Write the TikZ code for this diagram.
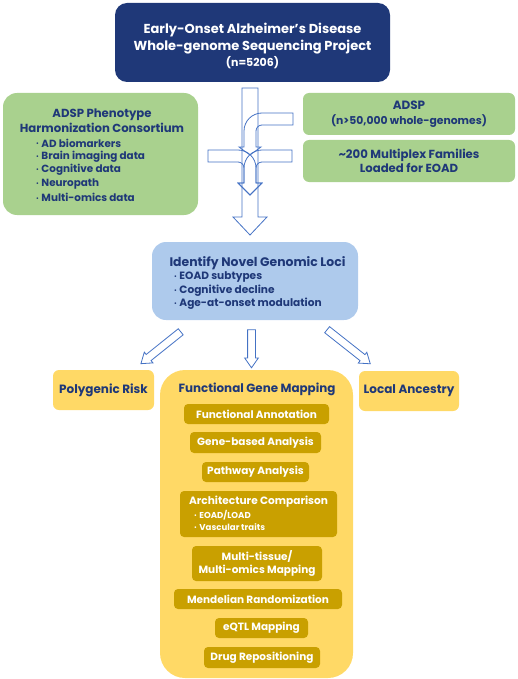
\documentclass[tikz,border=0pt]{standalone}
\usepackage{fontspec}
\setmainfont{Poppins}
\usetikzlibrary{shapes.arrows}

\definecolor{navy}{RGB}{31,56,120}
\definecolor{leaf}{RGB}{169,209,142}
\definecolor{sky}{RGB}{174,202,236}
\definecolor{sun}{RGB}{255,217,102}
\definecolor{gold}{RGB}{201,160,0}
\definecolor{flow}{RGB}{68,114,196}

\newcommand\bul{\raisebox{1.2pt}{\fontsize{5.5}{5}\selectfont\textbullet}\hspace{2.5pt}}

\begin{document}
\begin{tikzpicture}[x=1pt, y=-1pt,
    box/.style={rounded corners=#1, inner sep=0pt, text=navy, align=center},
    tag/.style={inner sep=0pt, text=navy},
    hollow/.style={draw=flow, line width=0.8pt, line join=miter},
    blockarrow/.style={single arrow, draw=flow, line width=0.8pt, inner sep=3.5pt,
      minimum width=0pt, single arrow head extend=3pt, single arrow tip angle=70}]
  \useasboundingbox (0,0) rectangle (517,679);

  % sources
  \node[box=12pt, fill=navy, minimum width=275pt, minimum height=79pt] (wgs) at (252.5,42.5) {};
  \node[tag, text=white, align=center, font=\bfseries\fontsize{13}{16.5}\selectfont] at (252.5,46)
    {Early-Onset Alzheimer's Disease\\Whole-genome Sequencing Project\\
     {\fontsize{11}{16.5}\selectfont (n=5206)}};
  \node[box=14pt, fill=leaf, minimum width=195pt, minimum height=122pt] (pheno) at (100.5,154) {};
  \node[tag, align=center, font=\bfseries\fontsize{11.7}{15}\selectfont] at (102,121)
    {ADSP Phenotype\\Harmonization Consortium};
  \def \phenolist {
    {AD biomarkers},
    {Brain imaging data},
    {Cognitive data},
    {Neuropath},
    {Multi-omics data}
  }
  \foreach \t [count=\i from 0] in \phenolist
    \node[tag, anchor=west, font=\bfseries\fontsize{10.4}{12}\selectfont] at (36,{143+13.6*\i}) {\bul\t};

  \node[box=6pt, fill=leaf, minimum width=212pt, minimum height=42pt,
    font=\bfseries\fontsize{12}{15}\selectfont] (adsp) at (409,114)
    {ADSP\\{\fontsize{10.8}{15}\selectfont (n>50,000 whole-genomes)}};
  \node[box=6pt, fill=leaf, minimum width=212pt, minimum height=42pt,
    font=\bfseries\fontsize{11.7}{14}\selectfont] (families) at (409,161)
    {\textasciitilde 200 Multiplex Families\\Loaded for EOAD};

  % merging arrows
  \draw[hollow] (242,88) -- (242,217) -- (233,217) -- (250,235) -- (267,217) -- (258,217) -- (258,88) -- cycle;
  \draw[hollow] (293,113) -- (262,113) arc[start angle=270, end angle=180, radius=18]
    -- (244,147) -- (239,147) -- (250,155) -- (261,147) -- (256,147) -- (256,131)
    arc[start angle=180, end angle=270, radius=6] -- (293,125) -- cycle;
  \draw[hollow] (208,150) -- (238,150) arc[start angle=270, end angle=360, radius=18]
    -- (256,183) -- (262,183) -- (250,195) -- (238,183) -- (244,183) -- (244,168)
    arc[start angle=0, end angle=-90, radius=6] -- (208,162) -- cycle;
  \draw[hollow] (292,150) -- (262,150) arc[start angle=270, end angle=180, radius=18]
    -- (244,183) -- (238,183) -- (250,195) -- (262,183) -- (256,183) -- (256,168)
    arc[start angle=180, end angle=270, radius=6] -- (292,162) -- cycle;

  % loci
  \node[box=14pt, fill=sky, minimum width=206pt, minimum height=78pt] (loci) at (255,281) {};
  \node[tag, font=\bfseries\fontsize{12.4}{14}\selectfont] at (257.5,263) {Identify Novel Genomic Loci};
  \foreach \t [count=\i from 0] in {EOAD subtypes, Cognitive decline, Age-at-onset modulation}
    \node[tag, anchor=west, font=\bfseries\fontsize{10.6}{12}\selectfont] at (174,{277+13.5*\i}) {\bul\t};

  \node[blockarrow, minimum height=51pt, rotate=218.7] (toprs) at (163,346) {};
  \node[blockarrow, minimum height=38pt, rotate=-90] (togene) at (251.5,346) {};
  \node[blockarrow, minimum height=55pt, rotate=-38.3] (toanc) at (346.5,345) {};

  % outcomes
  \node[box=6pt, fill=sun, minimum width=101pt, minimum height=40pt,
    font=\bfseries\fontsize{12}{14}\selectfont] (prs) at (103.5,390) {Polygenic Risk};
  \node[box=6pt, fill=sun, minimum width=100pt, minimum height=40pt,
    font=\bfseries\fontsize{12}{14}\selectfont] (ancestry) at (409,391) {Local Ancestry};
  \node[box=25pt, fill=sun, minimum width=193pt, minimum height=308pt] (genemap) at (256.5,524) {};
  \node[tag, font=\bfseries\fontsize{11.9}{14}\selectfont] at (257,389) {Functional Gene Mapping};

  \foreach \cx/\cy/\w/\h/\t [count=\i] in {
      256.5/414/145/20/{Functional Annotation},
      255.5/442.5/131/21/{Gene-based Analysis},
      255.5/472/107/20/{Pathway Analysis},
      258.5/514/157/46/{},
      257/563.5/130/35/{Multi-tissue/\\Multi-omics Mapping},
      258/599/168/20/{Mendelian Randomization},
      261.5/628/93/20/{eQTL Mapping},
      262/657.5/116/21/{Drug Repositioning}}
    \node[box=4pt, fill=gold, text=white, minimum width=\w pt, minimum height=\h pt,
      font=\bfseries\fontsize{10.5}{13}\selectfont] (fg\i) at (\cx,\cy) {\t};
  \node[tag, text=white, font=\bfseries\fontsize{10.6}{12}\selectfont] at (258.5,502) {Architecture Comparison};
  \foreach \t [count=\i from 0] in {EOAD/LOAD, Vascular traits}
    \node[tag, text=white, anchor=west, font=\bfseries\fontsize{8.6}{10}\selectfont] at (194,{515+12.5*\i}) {\bul\t};
\end{tikzpicture}
\end{document}
